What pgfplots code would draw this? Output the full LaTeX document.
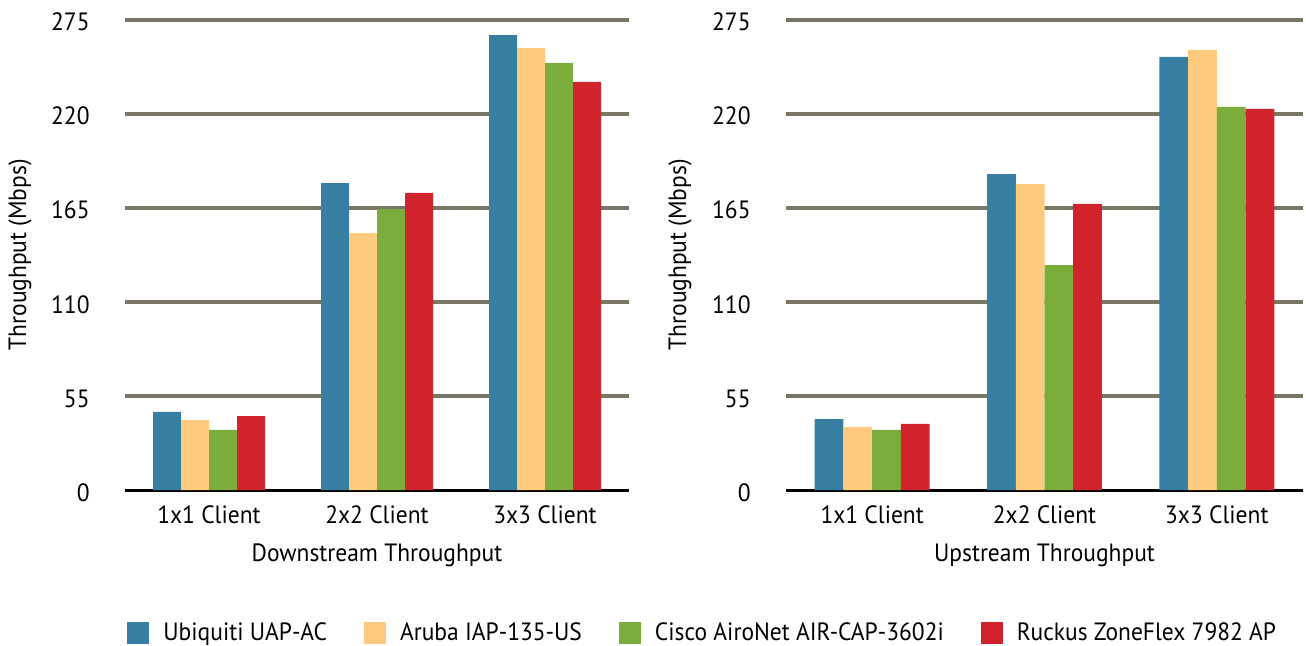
\documentclass[border=0pt]{standalone}
\usepackage{fontspec}
\setmainfont{PT Sans}[FakeStretch=0.94]
\usepackage{pgfplots}
\pgfplotsset{compat=1.18}
\definecolor{cBlue}{HTML}{367FA3}
\definecolor{cYellow}{HTML}{FECB7E}
\definecolor{cGreen}{HTML}{7AAD3C}
\definecolor{cRed}{HTML}{D1232B}
\definecolor{gridc}{HTML}{7A7666}
\pgfplotsset{
  myaxis/.style={
    scale only axis,
    height=235.25pt,
    ymin=0, ymax=275,
    xmin=-0.5, xmax=2.5,
    xtick={0,1,2},
    xticklabels={1x1 Client,2x2 Client,3x3 Client},
    ytick={55,110,165,220,275},
    extra y ticks={0},
    extra y tick style={grid=major, major grid style={black, line width=1.5pt}},
    ymajorgrids,
    major grid style={gridc, line width=2pt},
    axis line style={draw=none},
    major tick length=0pt,
    /pgf/number format/assume math mode=true,
    yticklabel style={anchor=base east, inner sep=0pt, xshift=-17.5pt, yshift=-5.6pt},
    xticklabel style={anchor=base, inner sep=0pt, yshift=-16.5pt},
    xlabel style={at={(axis description cs:0.5,0)}, anchor=base, inner sep=0pt, yshift=-35.5pt},
    ybar=0pt,
    bar width=0.16667,
    every axis plot/.append style={draw=none},
    legend image code/.code={\fill[##1] (0pt,-5.5pt) rectangle (11pt,5.5pt);},
  }
}
\begin{document}
\fontsize{12.5}{15}\selectfont
\begin{tikzpicture}
\path[use as bounding box] (0,0) rectangle (653pt,322.5pt);
\begin{axis}[myaxis,
  at={(62.5pt,77.5pt)}, anchor=south west,
  width=252pt,
  xlabel={Downstream Throughput},
  ylabel={Throughput (Mbps)},
  ylabel style={at={(axis description cs:-0.2083,0.5)}, anchor=center},
  legend columns=4,
  legend style={at={(axis description cs:0.004,-0.304)}, anchor=west, draw=none, fill=none, inner sep=0pt,
    nodes={inner sep=0pt},
    /tikz/every odd column/.append style={column sep=7pt},
    /tikz/every even column/.append style={column sep=18.5pt}},
]
\addplot[fill=cBlue] coordinates {(0,45.6) (1,179.4) (2,265.9)};
\addplot[fill=cYellow] coordinates {(0,40.9) (1,150.2) (2,258.3)};
\addplot[fill=cGreen] coordinates {(0,35.1) (1,164.2) (2,249.6)};
\addplot[fill=cRed] coordinates {(0,43.2) (1,173.6) (2,238.5)};
\legend{Ubiquiti UAP-AC, Aruba IAP-135-US, Cisco AiroNet AIR-CAP-3602i, Ruckus ZoneFlex 7982 AP}
\end{axis}
\begin{axis}[myaxis,
  at={(393pt,77.5pt)}, anchor=south west,
  width=258.5pt,
  xlabel={Upstream Throughput},
  ylabel={Throughput (Mbps)},
  ylabel style={at={(axis description cs:-0.205,0.5)}, anchor=center},
]
\addplot[fill=cBlue] coordinates {(0,41.5) (1,184.7) (2,253.1)};
\addplot[fill=cYellow] coordinates {(0,36.8) (1,178.8) (2,257.2)};
\addplot[fill=cGreen] coordinates {(0,35.1) (1,131.5) (2,223.9)};
\addplot[fill=cRed] coordinates {(0,38.6) (1,167.2) (2,222.7)};
\end{axis}
\end{tikzpicture}
\end{document}
